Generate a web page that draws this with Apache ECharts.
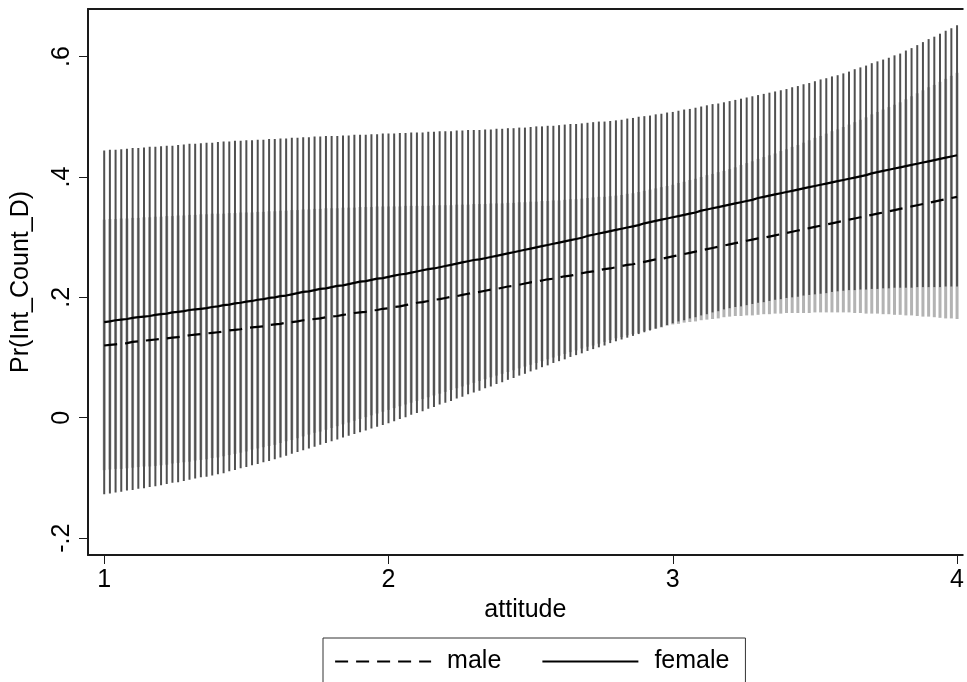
<!DOCTYPE html>
<html>
<head>
<meta charset="utf-8">
<script src="https://cdn.jsdelivr.net/npm/echarts@6/dist/echarts.min.js"></script>
<style>
html,body{margin:0;padding:0;background:#fff;}
#chart{width:967px;height:682px;}
</style>
</head>
<body>
<div id="chart"></div>
<script>
// attitude values (x) at which margins were evaluated
const attitude = [
1,1.02,1.04,1.06,1.08,1.1,1.12,1.14,1.16,1.18,
1.2,1.22,1.24,1.26,1.28,1.3,1.32,1.34,1.36,1.38,
1.4,1.42,1.44,1.46,1.48,1.5,1.52,1.54,1.56,1.58,
1.6,1.62,1.64,1.66,1.68,1.7,1.72,1.74,1.76,1.78,
1.8,1.82,1.84,1.86,1.88,1.9,1.92,1.94,1.96,1.98,
2,2.02,2.04,2.06,2.08,2.1,2.12,2.14,2.16,2.18,
2.2,2.22,2.24,2.26,2.28,2.3,2.32,2.34,2.36,2.38,
2.4,2.42,2.44,2.46,2.48,2.5,2.52,2.54,2.56,2.58,
2.6,2.62,2.64,2.66,2.68,2.7,2.72,2.74,2.76,2.78,
2.8,2.82,2.84,2.86,2.88,2.9,2.92,2.94,2.96,2.98,
3,3.02,3.04,3.06,3.08,3.1,3.12,3.14,3.16,3.18,
3.2,3.22,3.24,3.26,3.28,3.3,3.32,3.34,3.36,3.38,
3.4,3.42,3.44,3.46,3.48,3.5,3.52,3.54,3.56,3.58,
3.6,3.62,3.64,3.66,3.68,3.7,3.72,3.74,3.76,3.78,
3.8,3.82,3.84,3.86,3.88,3.9,3.92,3.94,3.96,3.98,
4];

const femaleFit = [
0.159,0.160,0.162,0.163,0.164,0.166,0.167,0.168,0.169,0.171,
0.172,0.173,0.175,0.176,0.177,0.179,0.180,0.181,0.182,0.184,
0.185,0.187,0.188,0.190,0.191,0.193,0.194,0.196,0.197,0.199,
0.200,0.202,0.203,0.205,0.207,0.209,0.210,0.212,0.214,0.215,
0.217,0.219,0.220,0.222,0.224,0.226,0.227,0.229,0.231,0.232,
0.234,0.236,0.238,0.239,0.241,0.243,0.245,0.247,0.248,0.250,
0.252,0.254,0.256,0.258,0.260,0.262,0.263,0.265,0.267,0.269,
0.271,0.273,0.275,0.277,0.279,0.281,0.283,0.285,0.287,0.289,
0.291,0.293,0.295,0.297,0.299,0.302,0.304,0.306,0.308,0.310,
0.312,0.314,0.316,0.318,0.320,0.323,0.325,0.327,0.329,0.331,
0.333,0.335,0.337,0.339,0.341,0.344,0.346,0.348,0.350,0.352,
0.354,0.356,0.358,0.360,0.362,0.365,0.367,0.369,0.371,0.373,
0.375,0.377,0.379,0.381,0.383,0.385,0.387,0.389,0.391,0.393,
0.395,0.397,0.399,0.401,0.403,0.406,0.408,0.410,0.412,0.414,
0.416,0.418,0.420,0.422,0.424,0.426,0.428,0.430,0.432,0.434,
0.436];

const femaleHi = [
0.444,0.445,0.445,0.446,0.447,0.448,0.448,0.449,0.450,0.450,
0.451,0.452,0.452,0.453,0.454,0.455,0.455,0.456,0.457,0.457,
0.458,0.459,0.459,0.460,0.460,0.461,0.461,0.462,0.462,0.463,
0.463,0.464,0.464,0.465,0.465,0.466,0.466,0.467,0.467,0.468,
0.468,0.468,0.469,0.469,0.470,0.470,0.470,0.471,0.471,0.472,
0.472,0.472,0.473,0.473,0.474,0.474,0.474,0.475,0.475,0.476,
0.476,0.476,0.477,0.477,0.478,0.478,0.478,0.479,0.479,0.480,
0.480,0.481,0.481,0.482,0.482,0.483,0.484,0.484,0.485,0.485,
0.486,0.487,0.488,0.488,0.489,0.490,0.491,0.492,0.492,0.493,
0.494,0.495,0.497,0.498,0.500,0.501,0.502,0.504,0.505,0.507,
0.508,0.510,0.512,0.513,0.515,0.517,0.519,0.521,0.522,0.524,
0.526,0.528,0.530,0.532,0.534,0.536,0.538,0.540,0.542,0.544,
0.546,0.549,0.551,0.554,0.556,0.559,0.562,0.564,0.567,0.569,
0.572,0.575,0.579,0.582,0.585,0.589,0.592,0.595,0.598,0.602,
0.605,0.610,0.614,0.619,0.624,0.629,0.633,0.638,0.643,0.647,
0.652];

const femaleLo = [
-0.127,-0.126,-0.124,-0.123,-0.121,-0.120,-0.118,-0.117,-0.115,-0.114,
-0.112,-0.110,-0.108,-0.107,-0.105,-0.103,-0.101,-0.099,-0.098,-0.096,
-0.094,-0.092,-0.089,-0.087,-0.084,-0.082,-0.079,-0.077,-0.074,-0.072,
-0.069,-0.066,-0.063,-0.060,-0.057,-0.054,-0.051,-0.048,-0.045,-0.042,
-0.039,-0.036,-0.033,-0.030,-0.027,-0.024,-0.021,-0.018,-0.015,-0.012,
-0.009,-0.006,-0.002,0.001,0.005,0.008,0.011,0.015,0.018,0.022,
0.025,0.028,0.032,0.035,0.039,0.042,0.045,0.049,0.052,0.056,
0.059,0.063,0.066,0.070,0.073,0.077,0.080,0.084,0.087,0.091,
0.094,0.097,0.101,0.104,0.107,0.111,0.114,0.117,0.120,0.124,
0.127,0.130,0.133,0.136,0.139,0.142,0.145,0.148,0.151,0.154,
0.157,0.160,0.162,0.165,0.167,0.170,0.172,0.175,0.177,0.180,
0.182,0.184,0.185,0.187,0.189,0.191,0.192,0.194,0.196,0.197,
0.199,0.200,0.201,0.203,0.204,0.205,0.206,0.207,0.209,0.210,
0.211,0.212,0.212,0.213,0.213,0.214,0.214,0.215,0.215,0.216,
0.216,0.216,0.216,0.217,0.217,0.217,0.217,0.217,0.218,0.218,
0.218];

const maleFit = [
0.120,0.121,0.122,0.123,0.124,0.126,0.127,0.128,0.129,0.130,
0.131,0.132,0.133,0.134,0.135,0.137,0.138,0.139,0.140,0.141,
0.142,0.143,0.145,0.146,0.147,0.149,0.150,0.151,0.152,0.154,
0.155,0.156,0.158,0.159,0.160,0.162,0.163,0.164,0.165,0.167,
0.168,0.169,0.171,0.172,0.174,0.175,0.176,0.178,0.179,0.181,
0.182,0.184,0.185,0.187,0.189,0.191,0.192,0.194,0.196,0.197,
0.199,0.201,0.202,0.204,0.206,0.208,0.209,0.211,0.213,0.214,
0.216,0.218,0.219,0.221,0.223,0.225,0.226,0.228,0.230,0.231,
0.233,0.235,0.236,0.238,0.240,0.242,0.243,0.245,0.247,0.248,
0.250,0.252,0.254,0.255,0.257,0.259,0.261,0.263,0.264,0.266,
0.268,0.270,0.272,0.274,0.276,0.278,0.280,0.282,0.284,0.286,
0.288,0.290,0.292,0.294,0.296,0.298,0.299,0.301,0.303,0.305,
0.307,0.309,0.311,0.313,0.315,0.317,0.319,0.321,0.323,0.325,
0.327,0.329,0.331,0.333,0.335,0.337,0.339,0.341,0.343,0.345,
0.347,0.349,0.351,0.353,0.355,0.357,0.359,0.361,0.363,0.365,
0.367];

const maleHi = [
0.329,0.330,0.330,0.331,0.331,0.332,0.332,0.333,0.333,0.334,
0.334,0.335,0.335,0.336,0.336,0.337,0.337,0.338,0.338,0.339,
0.339,0.339,0.340,0.340,0.341,0.341,0.341,0.342,0.342,0.343,
0.343,0.344,0.344,0.345,0.345,0.346,0.346,0.347,0.347,0.348,
0.348,0.348,0.349,0.349,0.349,0.350,0.350,0.350,0.351,0.351,
0.351,0.351,0.351,0.352,0.352,0.352,0.352,0.352,0.353,0.353,
0.353,0.353,0.354,0.354,0.354,0.355,0.355,0.355,0.356,0.356,
0.356,0.357,0.357,0.358,0.358,0.359,0.359,0.360,0.360,0.361,
0.361,0.362,0.363,0.363,0.364,0.365,0.366,0.367,0.367,0.368,
0.369,0.370,0.372,0.373,0.375,0.377,0.379,0.381,0.383,0.385,
0.387,0.390,0.392,0.395,0.397,0.400,0.403,0.405,0.408,0.410,
0.413,0.416,0.420,0.423,0.426,0.430,0.433,0.436,0.439,0.443,
0.446,0.450,0.453,0.457,0.461,0.465,0.468,0.472,0.476,0.479,
0.483,0.487,0.491,0.495,0.499,0.504,0.508,0.512,0.516,0.520,
0.524,0.529,0.534,0.539,0.544,0.549,0.553,0.558,0.563,0.568,
0.573];

const maleLo = [
-0.087,-0.086,-0.085,-0.085,-0.084,-0.083,-0.082,-0.081,-0.081,-0.080,
-0.079,-0.078,-0.076,-0.075,-0.074,-0.073,-0.071,-0.070,-0.069,-0.067,
-0.066,-0.064,-0.062,-0.060,-0.058,-0.056,-0.053,-0.051,-0.049,-0.047,
-0.045,-0.042,-0.039,-0.037,-0.034,-0.031,-0.028,-0.025,-0.023,-0.020,
-0.017,-0.014,-0.011,-0.008,-0.005,-0.002,0.001,0.004,0.007,0.010,
0.013,0.016,0.019,0.022,0.025,0.028,0.031,0.034,0.037,0.040,
0.043,0.046,0.049,0.052,0.055,0.058,0.061,0.064,0.067,0.070,
0.073,0.076,0.079,0.082,0.085,0.088,0.091,0.094,0.097,0.100,
0.103,0.106,0.109,0.112,0.115,0.118,0.120,0.123,0.126,0.129,
0.132,0.134,0.137,0.139,0.141,0.144,0.146,0.148,0.150,0.153,
0.155,0.156,0.158,0.159,0.160,0.162,0.163,0.164,0.165,0.167,
0.168,0.169,0.169,0.170,0.170,0.171,0.172,0.172,0.173,0.173,
0.174,0.174,0.174,0.174,0.174,0.175,0.175,0.175,0.175,0.175,
0.175,0.175,0.174,0.174,0.173,0.173,0.173,0.172,0.172,0.171,
0.171,0.170,0.170,0.169,0.168,0.168,0.167,0.166,0.165,0.165,
0.164];

const xTicks = [1, 2, 3, 4];
const yTicks = [-0.2, 0, 0.2, 0.4, 0.6];
const yTickLabels = ['-.2', '0', '.2', '.4', '.6'];

const FONT = 'Liberation Sans, Arial, Helvetica, sans-serif';

function spikeSeries(name, lo, hi, color, width) {
  return {
    name: name,
    type: 'custom',
    clip: true,
    silent: true,
    data: attitude.map((x, i) => [x, lo[i], hi[i]]),
    encode: { x: 0, y: [1, 2] },
    renderItem: function (params, api) {
      const x = api.value(0);
      const p1 = api.coord([x, api.value(1)]);
      const p2 = api.coord([x, api.value(2)]);
      return {
        type: 'line',
        shape: { x1: p1[0], y1: p1[1], x2: p2[0], y2: p2[1] },
        style: { stroke: color, lineWidth: width }
      };
    }
  };
}

const chart = echarts.init(document.getElementById('chart'), null, { renderer: 'canvas' });
chart.setOption({
  backgroundColor: '#ffffff',
  animation: false,
  grid: { left: 88, right: 0, top: 9, bottom: 127, containLabel: false },
  xAxis: [{
    type: 'value', min: 0.943, max: 4.02,
    name: 'attitude', nameLocation: 'middle', nameGap: 43,
    nameTextStyle: { fontFamily: FONT, fontSize: 25, color: '#000' },
    axisLine: { show: true, onZero: false, lineStyle: { color: '#1a1a1a', width: 2 } },
    axisTick: { show: true, length: 9, customValues: xTicks, lineStyle: { color: '#1a1a1a', width: 1 } },
    axisLabel: { show: true, customValues: xTicks, margin: 13, fontFamily: FONT, fontSize: 25, color: '#000' },
    splitLine: { show: false }
  }, {
    type: 'value', position: 'top', min: 0.943, max: 4.02,
    axisLine: { show: true, onZero: false, lineStyle: { color: '#1a1a1a', width: 2 } },
    axisTick: { show: false }, axisLabel: { show: false }, splitLine: { show: false }
  }],
  yAxis: {
    type: 'value', min: -0.228, max: 0.679,
    name: 'Pr(Int_Count_D)', nameLocation: 'middle', nameGap: 54, nameRotate: 90,
    nameTextStyle: { fontFamily: FONT, fontSize: 25, color: '#000' },
    axisLine: { show: true, onZero: false, lineStyle: { color: '#1a1a1a', width: 2 } },
    axisTick: { show: true, length: 9, customValues: yTicks, lineStyle: { color: '#1a1a1a', width: 1 } },
    axisLabel: {
      show: true, customValues: yTicks, rotate: 90, margin: 13,
      fontFamily: FONT, fontSize: 25, color: '#000',
      formatter: function (v) {
        for (let i = 0; i < yTicks.length; i++) if (Math.abs(yTicks[i] - v) < 1e-9) return yTickLabels[i];
        return '';
      }
    },
    splitLine: { show: false }
  },
  legend: {
    data: ['male', 'female'],
    left: 323, top: 638,
    orient: 'horizontal',
    itemWidth: 96, itemHeight: 25, itemGap: 40,
    padding: [11, 16, 30, 11],
    borderColor: '#333', borderWidth: 1,
    backgroundColor: '#fff',
    itemStyle: { opacity: 0 },
    lineStyle: { width: 2.2 },
    textStyle: { fontFamily: FONT, fontSize: 25, color: '#000', padding: [0, 0, 0, 11] },
    selectedMode: false
  },
  series: [
    spikeSeries('male CI', maleLo, maleHi, '#b3b3b3', 3),
    spikeSeries('female CI', femaleLo, femaleHi, '#505050', 2),
    {
      name: 'male', type: 'line', symbol: 'none', silent: true,
      data: attitude.map((x, i) => [x, maleFit[i]]),
      lineStyle: { color: '#000', width: 2.2, type: [13, 8] },
      itemStyle: { color: '#000' }
    },
    {
      name: 'female', type: 'line', symbol: 'none', silent: true,
      data: attitude.map((x, i) => [x, femaleFit[i]]),
      lineStyle: { color: '#000', width: 2.2, type: 'solid' },
      itemStyle: { color: '#000' }
    }
  ]
});
</script>
</body>
</html>
